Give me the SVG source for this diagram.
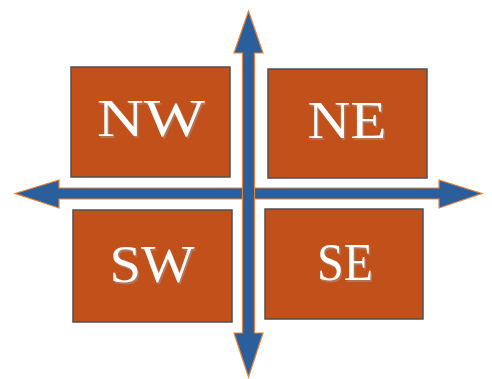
<svg xmlns="http://www.w3.org/2000/svg" width="492" height="379" viewBox="0 0 492 379">
<style>
.box{fill:#C1501A;stroke:#505050;stroke-width:1.5}
.lbl{font-family:"Liberation Serif","Times New Roman",serif;font-size:53px;fill:#ffffff;text-anchor:middle}
.shd{font-family:"Liberation Serif","Times New Roman",serif;font-size:53px;fill:#a89a94;text-anchor:middle;opacity:0.5}
.arr{fill:#2B5F9C;stroke:#E8833A;stroke-width:1.2;stroke-linejoin:miter}
</style>
<rect width="492" height="379" fill="#ffffff"/>
<g id="NW">
<rect class="box" x="71" y="67" width="159" height="110"/>
<text class="shd" x="152.5" y="137.5" textLength="108" lengthAdjust="spacingAndGlyphs">NW</text>
<text class="lbl" x="151" y="136" textLength="108" lengthAdjust="spacingAndGlyphs">NW</text>
</g>
<g id="NE">
<rect class="box" x="268" y="69" width="159" height="109"/>
<text class="shd" x="348.5" y="139.5" textLength="79" lengthAdjust="spacingAndGlyphs">NE</text>
<text class="lbl" x="347" y="138" textLength="79" lengthAdjust="spacingAndGlyphs">NE</text>
</g>
<g id="SW">
<rect class="box" x="73" y="210" width="159" height="112"/>
<text class="shd" x="153.5" y="283.5" textLength="85" lengthAdjust="spacingAndGlyphs">SW</text>
<text class="lbl" x="152" y="282" textLength="85" lengthAdjust="spacingAndGlyphs">SW</text>
</g>
<g id="SE">
<rect class="box" x="265" y="209" width="158" height="110"/>
<text class="shd" x="346.5" y="281.5" textLength="56" lengthAdjust="spacingAndGlyphs">SE</text>
<text class="lbl" x="345" y="280" textLength="56" lengthAdjust="spacingAndGlyphs">SE</text>
</g>
<g id="connectors">
<polygon class="arr" points="15,193.5 59,180 59,188 439,188 439,180 482,193.5 439,208 439,199 59,199 59,208"/>
<polygon class="arr" points="248.5,11 263,53 254.5,53 254.5,333 263,333 248.5,377 234,333 242.5,333 242.5,53 234,53"/>
<rect x="243.1" y="188.6" width="10.8" height="9.8" fill="#2B5F9C"/>
</g>
</svg>
